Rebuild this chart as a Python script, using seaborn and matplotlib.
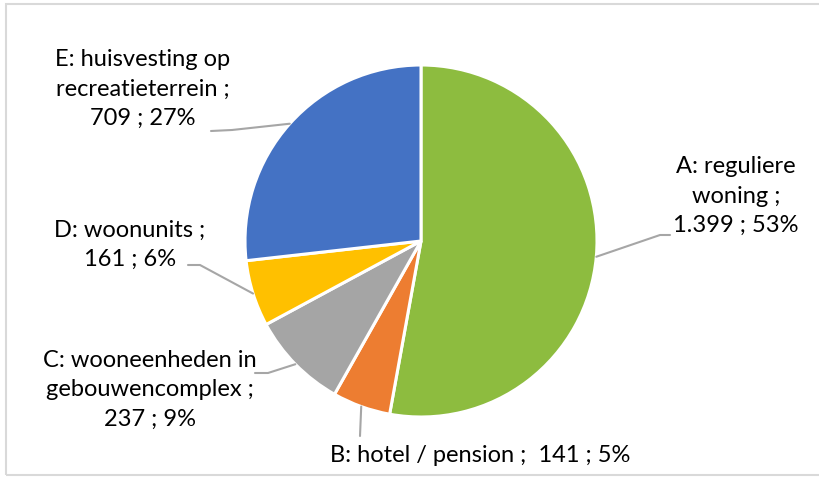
import matplotlib
matplotlib.use("Agg")
import matplotlib.pyplot as plt
import seaborn as sns
import numpy as np

categories = ["A: reguliere\nwoning ;", "B: hotel / pension ; ", "C: wooneenheden in\ngebouwencomplex ;",
              "D: woonunits ;", "E: huisvesting op\nrecreatieterrein ;"]
values = [1399, 141, 237, 161, 709]
value_labels = ["1.399", "141", "237", "161", "709"]
pct_labels = ["53%", "5%", "9%", "6%", "27%"]
colors = ["#8DBC3F", "#ED7D31", "#A5A5A5", "#FFC000", "#4472C4"]

sns.set_theme(style="white")
plt.rcParams["font.family"] = ["Lato", "DejaVu Sans"]

W, H = 820, 478
fig = plt.figure(figsize=(W / 100, H / 100), dpi=100)
cx, cy, r = 421, 241, 176
ax = fig.add_axes([(cx - r) / W, (H - cy - r) / H, 2 * r / W, 2 * r / H])

wedges, _ = ax.pie(values, colors=colors, startangle=90, counterclock=False,
                   wedgeprops=dict(edgecolor="white", linewidth=2.2))
ax.set_xlim(-1, 1)
ax.set_ylim(-1, 1)
ax.set_aspect("equal")
ax.axis("off")

# frame
fig.add_artist(plt.Rectangle((6 / W, 3 / H), 1.2, (H - 7) / H, transform=fig.transFigure,
                             fill=False, edgecolor="#D9D9D9", linewidth=1.5))

def px(x, y):
    return ((x - cx) / r, (cy - y) / r)

# label layout: text centre (pixels), leader line points (pixels)
layout = [
    ((736, 196), [(670, 235), (660, 235)], True),
    ((480, 456), [(360, 436)], False),
    ((150, 390), [(255, 373), (268, 373)], True),
    ((130, 245), [(188, 265), (200, 265)], True),
    ((143, 89), [(211, 131), (232, 130)], True),
]

total = sum(values)
theta = 90.0
for i, (w, v) in enumerate(zip(wedges, values)):
    frac = v / total
    mid = np.deg2rad(theta - frac * 180)
    theta -= frac * 360
    (tx, ty), pts, multi = layout[i]
    sep = "\n" if multi else " "
    label = f"{categories[i]}{sep}{value_labels[i]} ; {pct_labels[i]}"
    ax.text(*px(tx, ty), label, ha="center", va="center", fontsize=17,
            linespacing=1.5, color="black")
    edge = (np.cos(mid), np.sin(mid))
    xs = [px(*p)[0] for p in pts] + [edge[0]]
    ys = [px(*p)[1] for p in pts] + [edge[1]]
    ax.plot(xs, ys, color="#A6A6A6", linewidth=1.5, clip_on=False)

fig.savefig("out.png", dpi=100)
